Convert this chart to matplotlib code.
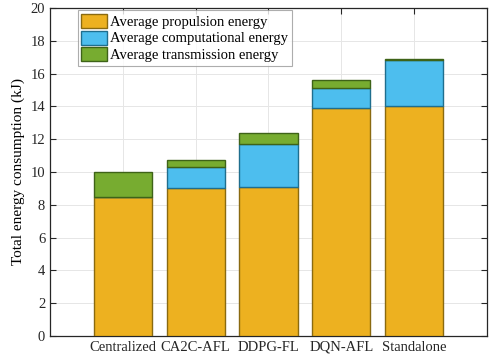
import numpy as np
import matplotlib.pyplot as plt

plt.rcParams.update({
    'font.family': ['Liberation Serif', 'DejaVu Serif'],
    'font.size': 10,
})

schemes = ['Centralized', 'CA2C-AFL', 'DDPG-FL', 'DQN-AFL', 'Standalone']
propulsion = [8.45, 9.05, 9.1, 13.9, 14.0]
computational = [0.05, 1.25, 2.6, 1.2, 2.85]
transmission = [1.5, 0.45, 0.7, 0.5, 0.05]

labels = ['Average propulsion energy', 'Average computational energy',
          'Average transmission energy']
faces = ['#EDB120', '#4DBEEE', '#77AC30']
edges = ['#8A6A10', '#1F6E8E', '#3E6318']

fig = plt.figure(figsize=(4.93, 3.63), dpi=100)
ax = fig.add_axes([0.1014, 0.0744, 0.8864, 0.9036])

x = np.arange(1, len(schemes) + 1)
bottom = np.zeros(len(schemes))
for vals, lab, fc, ec in zip([propulsion, computational, transmission],
                             labels, faces, edges):
    ax.bar(x, vals, 0.8, bottom=bottom, color=fc, edgecolor=ec,
           linewidth=1.0, label=lab, zorder=3)
    bottom += np.array(vals)

ax.set_xlim(0, 6)
ax.set_ylim(0, 20)
ax.set_xticks(x)
ax.set_xticklabels(schemes)
ax.set_yticks(np.arange(0, 21, 2))
ax.set_ylabel('Total energy consumption (kJ)', fontsize=11)
ax.grid(True, color='#e6e6e6', linewidth=0.7, zorder=0)
ax.tick_params(direction='in', top=True, right=True, length=4, width=0.8,
               labelsize=10.5, colors='#262626')
for s in ax.spines.values():
    s.set_linewidth(0.9)
    s.set_color('#262626')

leg = ax.legend(loc='upper left', bbox_to_anchor=(0.058, 1.0), fontsize=10.5,
                frameon=True, fancybox=False, edgecolor='#999999',
                handlelength=1.75, handleheight=1.1, handletextpad=0.25,
                borderpad=0.25, labelspacing=0.12, borderaxespad=0.15)
leg.get_frame().set_linewidth(0.8)

fig.savefig('out.png', dpi=100)
